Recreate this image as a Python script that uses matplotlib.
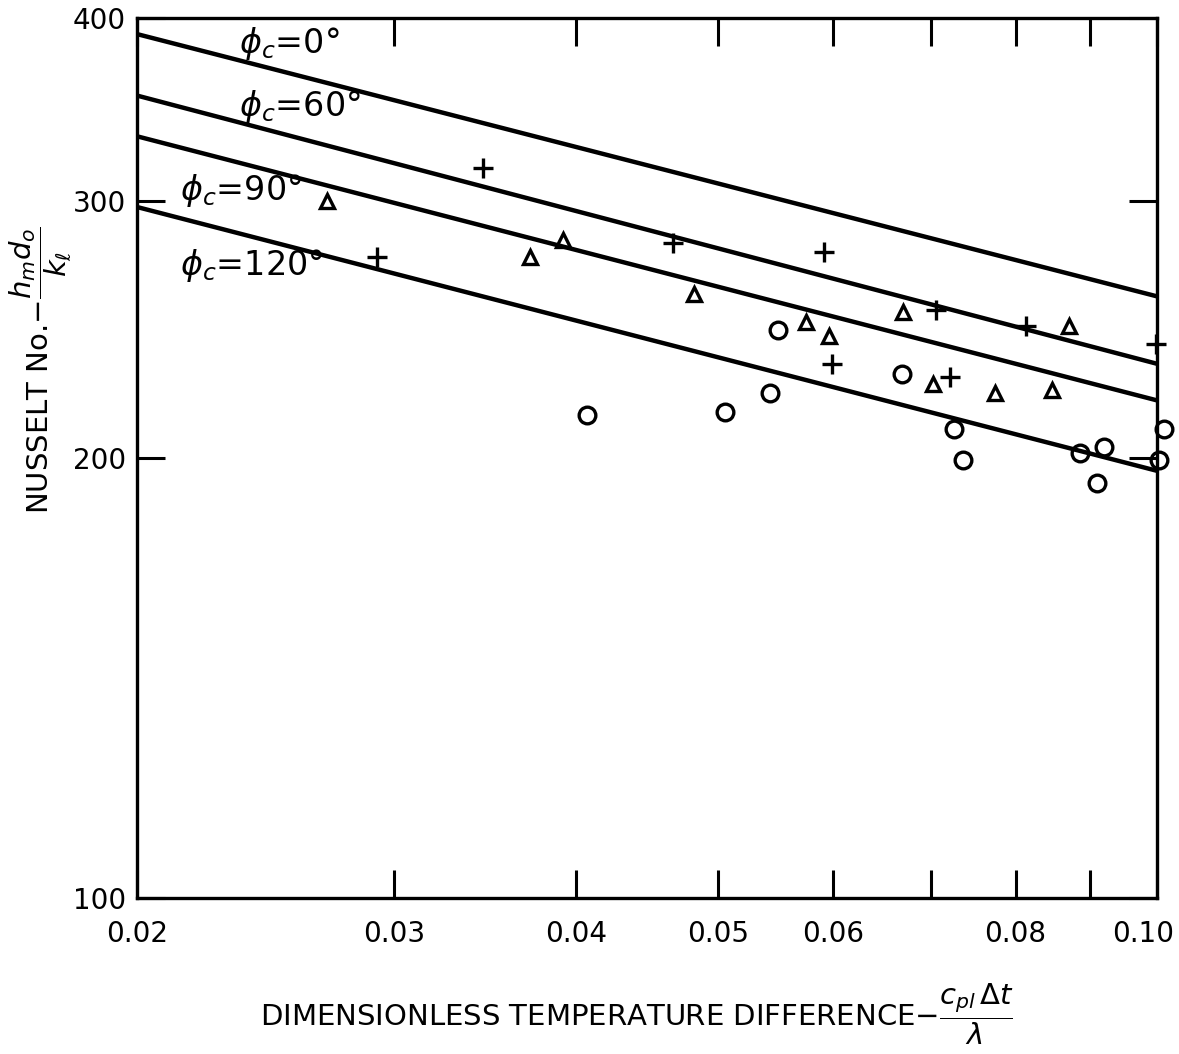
import numpy as np
import matplotlib
matplotlib.use("Agg")
import matplotlib.pyplot as plt
import matplotlib.transforms as mtransforms
from matplotlib.ticker import FixedLocator, FixedFormatter, NullLocator

plt.rcParams["font.family"] = ["DejaVu Sans"]
plt.rcParams["mathtext.fontset"] = "dejavusans"

# correlation lines (end points at x = 0.02 and x = 0.10)
line_x = [0.02, 0.10]
line_0 = [390, 258]
line_60 = [354, 232]
line_90 = [332, 219]
line_120 = [297, 196]

# data points
plus_x = [0.0345, 0.0292, 0.0466, 0.0591, 0.0599, 0.0706, 0.0721, 0.0813, 0.0998]
plus_y = [316, 274.5, 280.7, 276.7, 231.9, 252.6, 227.2, 246.4, 239.4]

tri_x = [0.0270, 0.0372, 0.0392, 0.0482, 0.0575, 0.0596, 0.0670, 0.0702, 0.0775, 0.0847, 0.0870]
tri_y = [300, 274.5, 282, 258.8, 247.9, 242.5, 251.9, 224.6, 221.4, 222.5, 246.4]

circ_x = [0.0407, 0.0506, 0.0543, 0.0550, 0.0669, 0.0726, 0.0736, 0.0886, 0.0910, 0.0920, 0.1003, 0.1011]
circ_y = [214.1, 215.2, 221.4, 244.8, 228.2, 209.5, 199.4, 201.6, 192.2, 203.5, 199.4, 209.5]

x_ticks = [0.02, 0.03, 0.04, 0.05, 0.06, 0.07, 0.08, 0.09, 0.10]
x_labels = ["0.02", "0.03", "0.04", "0.05", "0.06", "", "0.08", "", "0.10"]
y_ticks = [100, 200, 300, 400]
y_labels = ["100", "200", "300", "400"]

fig = plt.figure(figsize=(11.79, 10.54), dpi=100)
ax = fig.add_axes([137 / 1179, 1 - 898 / 1054, 1020 / 1179, 880 / 1054])
ax.set_xscale("log")
ax.set_yscale("log")

for ys in (line_0, line_60, line_90, line_120):
    ax.plot(line_x, ys, color="black", lw=3.2, solid_capstyle="butt")

ax.plot(plus_x, plus_y, ls="none", marker="+", ms=15, mew=2.4, color="black", clip_on=False)
ax.plot(tri_x, tri_y, ls="none", marker="^", ms=10, mew=2.4, mfc="none", mec="black", clip_on=False)
ax.plot(circ_x, circ_y, ls="none", marker="o", ms=12, mew=2.4, mfc="none", mec="black", clip_on=False)

ax.text(0.0235, 384, r"$\phi_c$=0°", fontsize=24, va="center", ha="left")
ax.text(0.0235, 348, r"$\phi_c$=60°", fontsize=24, va="center", ha="left")
ax.text(0.0214, 305, r"$\phi_c$=90°", fontsize=24, va="center", ha="left")
ax.text(0.0214, 271, r"$\phi_c$=120°", fontsize=24, va="center", ha="left")

ax.set_xlim(0.02, 0.10)
ax.set_ylim(100, 400)

ax.xaxis.set_major_locator(FixedLocator(x_ticks))
ax.xaxis.set_major_formatter(FixedFormatter(x_labels))
ax.xaxis.set_minor_locator(NullLocator())
ax.yaxis.set_major_locator(FixedLocator(y_ticks))
ax.yaxis.set_major_formatter(FixedFormatter(y_labels))
ax.yaxis.set_minor_locator(NullLocator())

ax.tick_params(axis="both", which="major", direction="in", length=20, width=2.2,
               top=True, right=True, labelsize=20)
ax.tick_params(axis="x", pad=16)
ax.tick_params(axis="y", pad=8)
for s in ax.spines.values():
    s.set_linewidth(2.4)

# keep the last x label inside the figure
last = ax.get_xticklabels()[-1]
last.set_transform(last.get_transform() + mtransforms.ScaledTranslation(-0.14, 0, fig.dpi_scale_trans))

ax.set_xlabel(r"DIMENSIONLESS TEMPERATURE DIFFERENCE$-\dfrac{c_{pl}\,\Delta t}{\lambda}$",
              fontsize=21, va="top")
ax.set_ylabel(r"NUSSELT No.$-\dfrac{h_m d_o}{k_\ell}$", fontsize=21)
ax.xaxis.set_label_coords(0.49, -0.095)
ax.yaxis.set_label_coords(-0.062, 0.6)

fig.savefig("out.png", dpi=100)
